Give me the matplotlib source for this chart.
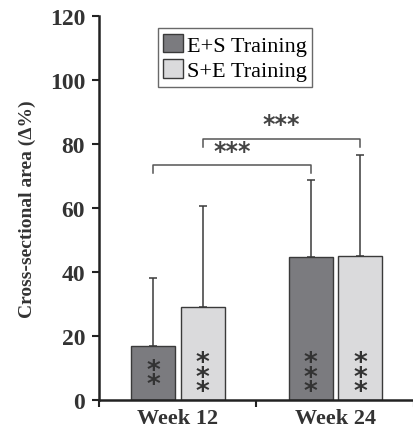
import numpy as np
import matplotlib
matplotlib.use('Agg')
import matplotlib.pyplot as plt

plt.rcParams['font.family'] = ['Liberation Serif', 'DejaVu Serif']

weeks = ['Week 12', 'Week 24']
groups = ['E+S Training', 'S+E Training']
means = {'E+S Training': [17.0, 44.6], 'S+E Training': [29.2, 45.1]}
sds = {'E+S Training': [21.0, 24.2], 'S+E Training': [31.4, 31.5]}
in_bar_stars = {'E+S Training': ['**', '***'], 'S+E Training': ['***', '***']}
colors = {'E+S Training': '#7b7b7f', 'S+E Training': '#dadadc'}
offsets = {'E+S Training': -0.155, 'S+E Training': 0.158}
yticks = [0, 20, 40, 60, 80, 100, 120]

fig = plt.figure(figsize=(4.14, 4.39), dpi=100)
ax = fig.add_axes([99 / 414, 38 / 439, 315 / 414, 384 / 439])

x = np.arange(len(weeks))
for g in groups:
    xs = x + offsets[g]
    ax.bar(xs, means[g], width=0.28, color=colors[g], edgecolor='#3a3a3a',
           linewidth=1.0, label=g, zorder=2)
    ax.errorbar(xs, means[g], yerr=[np.zeros(len(weeks)), sds[g]], fmt='none',
                ecolor='#3a3a3a', elinewidth=1.1, capsize=3, capthick=1.1, zorder=1)
    for xi, s in zip(xs, in_bar_stars[g]):
        ax.text(xi, 13.2 if len(s) == 2 else 15.5, '\n'.join(s), ha='center', va='top',
                fontsize=19, linespacing=0.42, color='#333333', family='DejaVu Sans',
                fontweight='bold')

# significance brackets between weeks
def bracket(x0, x1, y, label):
    ax.plot([x0, x0, x1, x1], [y - 2.4, y, y, y - 2.4], color='#555555', lw=1.1,
            solid_joinstyle='round')
    ax.text((x0 + x1) / 2, y + 0.8, label, ha='center', va='bottom', fontsize=17,
            color='#444444', family='DejaVu Sans', fontweight='bold')

bracket(x[0] + offsets['E+S Training'], x[1] + offsets['E+S Training'], 73.4, '***')
bracket(x[0] + offsets['S+E Training'], x[1] + offsets['S+E Training'], 81.6, '***')

ax.set_xlim(-0.5, 1.469)
ax.set_ylim(0, 120)
ax.set_yticks(yticks)
ax.set_yticklabels([str(v) for v in yticks], fontsize=17, fontweight='bold', color='#333333')
ax.set_xticks([-0.5, 0.5, 1.5])
ax.set_xticklabels([])
ax.set_xticks(x, minor=True)
ax.set_xticklabels(weeks, minor=True, fontsize=16, fontweight='bold', color='#333333')
ax.tick_params(axis='x', which='minor', length=0, pad=6)
ax.tick_params(axis='x', which='major', length=5, width=1.5, color='#222222')
ax.tick_params(axis='y', length=5, width=1.5, color='#222222', pad=5)
for s in ['top', 'right']:
    ax.spines[s].set_visible(False)
for s in ['left', 'bottom']:
    ax.spines[s].set_linewidth(1.8)
    ax.spines[s].set_color('#222222')

ax.set_ylabel('Cross-sectional area (Δ%)', fontsize=14, fontweight='bold',
              color='#333333', labelpad=10)

leg = ax.legend(loc='upper left', bbox_to_anchor=(0.187, 0.968), fontsize=16,
                frameon=True, fancybox=False, edgecolor='#444444',
                handlelength=0.9, handleheight=0.9, handletextpad=0.15,
                borderpad=0.25, labelspacing=0.15, borderaxespad=0)
leg.get_frame().set_linewidth(1.0)

fig.savefig('out.png', dpi=100)
